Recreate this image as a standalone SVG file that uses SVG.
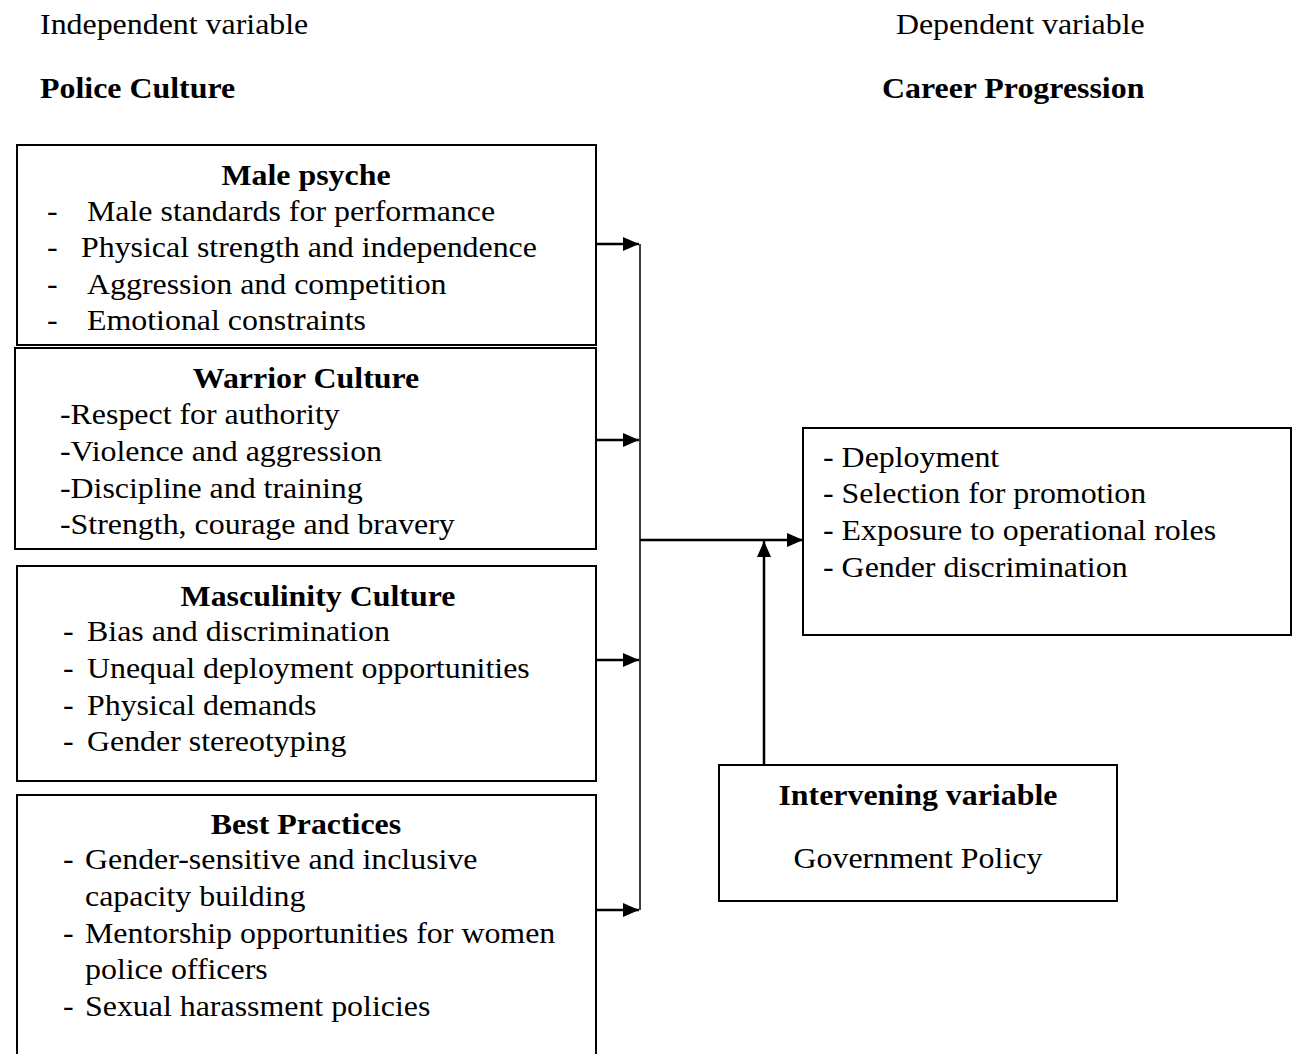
<svg xmlns="http://www.w3.org/2000/svg" width="1293" height="1054" viewBox="0 0 1293 1054">
<style>
text{font-family:"Liberation Serif","Times New Roman",serif;font-size:29px;fill:#000}
.b{font-weight:bold}
.c{text-anchor:middle}
.box{fill:#fff;stroke:#000;stroke-width:2}
.ln{stroke:#000;stroke-width:2.5;fill:none}
.thin{stroke:#000;stroke-width:1.5;fill:none}
</style>
<defs>
<marker id="ah" viewBox="0 0 16 14" refX="16" refY="7" markerWidth="16" markerHeight="14" markerUnits="userSpaceOnUse" orient="auto">
<path d="M0,0 L16,7 L0,14 Z" fill="#000"/>
</marker>
</defs>
<rect width="1293" height="1054" fill="#fff"/>
<g id="headings" transform="scale(1.1 1)">
<text x="36.4" y="34">Independent variable</text>
<text class="b" x="36.4" y="98">Police Culture</text>
<text x="814.5" y="34">Dependent variable</text>
<text class="b" x="801.8" y="98">Career Progression</text>
</g>
<g id="connectors">
<line class="ln" x1="596" y1="244" x2="639" y2="244" marker-end="url(#ah)"/>
<line class="ln" x1="596" y1="440" x2="639" y2="440" marker-end="url(#ah)"/>
<line class="ln" x1="596" y1="660" x2="639" y2="660" marker-end="url(#ah)"/>
<line class="ln" x1="596" y1="910" x2="639" y2="910" marker-end="url(#ah)"/>
<line class="thin" x1="640" y1="244" x2="640" y2="910"/>
<line class="ln" x1="640" y1="540" x2="803" y2="540" marker-end="url(#ah)"/>
<line class="ln" x1="764" y1="765" x2="764" y2="541" marker-end="url(#ah)"/>
</g>
<g id="male-psyche">
<rect class="box" x="17" y="145" width="579" height="200"/>
<g transform="scale(1.1 1)">
<text class="b c" x="278.2" y="185">Male psyche</text>
<text x="42.7" y="221">-</text><text x="79.1" y="221">Male standards for performance</text>
<text x="42.7" y="257">-</text><text x="73.6" y="257">Physical strength and independence</text>
<text x="42.7" y="294">-</text><text x="79.1" y="294">Aggression and competition</text>
<text x="42.7" y="330">-</text><text x="79.1" y="330">Emotional constraints</text>
</g>
</g>
<g id="warrior-culture">
<rect class="box" x="15" y="348" width="581" height="201"/>
<g transform="scale(1.1 1)">
<text class="b c" x="278.2" y="388">Warrior Culture</text>
<text x="54.5" y="424">-Respect for authority</text>
<text x="54.5" y="461">-Violence and aggression</text>
<text x="54.5" y="498">-Discipline and training</text>
<text x="54.5" y="534">-Strength, courage and bravery</text>
</g>
</g>
<g id="masculinity-culture">
<rect class="box" x="17" y="566" width="579" height="215"/>
<g transform="scale(1.1 1)">
<text class="b c" x="289.1" y="606">Masculinity Culture</text>
<text x="57.3" y="641">-</text><text x="79.1" y="641">Bias and discrimination</text>
<text x="57.3" y="678">-</text><text x="79.1" y="678">Unequal deployment opportunities</text>
<text x="57.3" y="715">-</text><text x="79.1" y="715">Physical demands</text>
<text x="57.3" y="751">-</text><text x="79.1" y="751">Gender stereotyping</text>
</g>
</g>
<g id="best-practices">
<rect class="box" x="17" y="795" width="579" height="270"/>
<g transform="scale(1.1 1)">
<text class="b c" x="278.2" y="834">Best Practices</text>
<text x="57.3" y="869">-</text><text x="77.3" y="869">Gender-sensitive and inclusive</text>
<text x="77.3" y="906">capacity building</text>
<text x="57.3" y="943">-</text><text x="77.3" y="943">Mentorship opportunities for women</text>
<text x="77.3" y="979">police officers</text>
<text x="57.3" y="1016">-</text><text x="77.3" y="1016">Sexual harassment policies</text>
</g>
</g>
<g id="career-progression">
<rect class="box" x="803" y="428" width="488" height="207"/>
<g transform="scale(1.1 1)">
<text x="748.2" y="467">- Deployment</text>
<text x="748.2" y="503">- Selection for promotion</text>
<text x="748.2" y="540">- Exposure to operational roles</text>
<text x="748.2" y="577">- Gender discrimination</text>
</g>
</g>
<g id="intervening-variable">
<rect class="box" x="719" y="765" width="398" height="136"/>
<g transform="scale(1.1 1)">
<text class="b c" x="834.5" y="805">Intervening variable</text>
<text class="c" x="834.5" y="868">Government Policy</text>
</g>
</g>
</svg>
